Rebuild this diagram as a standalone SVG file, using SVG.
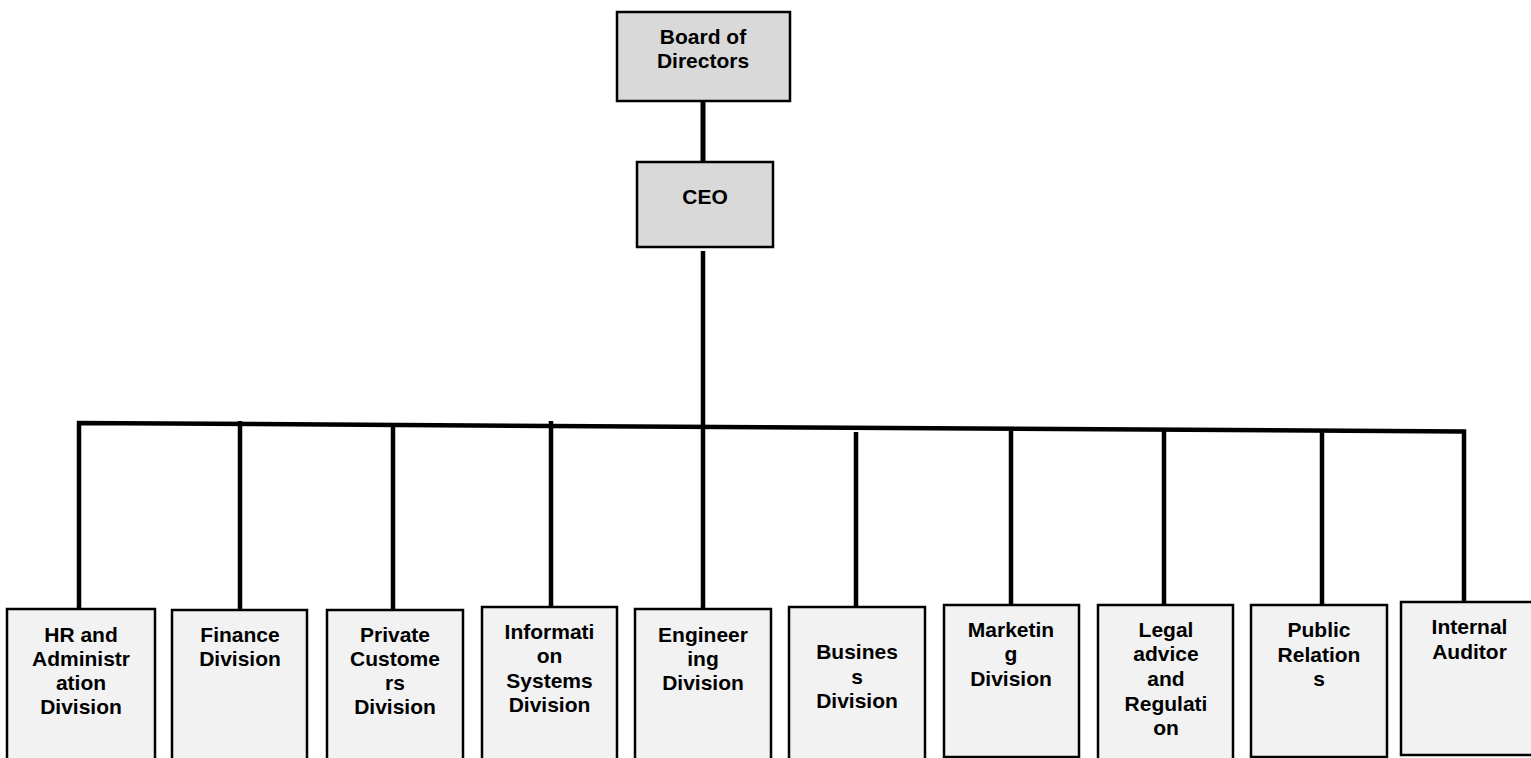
<svg xmlns="http://www.w3.org/2000/svg" width="1531" height="758" viewBox="0 0 1531 758">
<style>
.top{fill:#d9d9d9;stroke:#000;stroke-width:2.5}
.div{fill:#f2f2f2;stroke:#000;stroke-width:2.5}
text{font-family:"Liberation Sans",Arial,sans-serif;font-weight:bold;font-size:21px;fill:#000;text-anchor:middle}
.c{stroke:#000;stroke-width:4.5;fill:none}
</style>
<rect width="1531" height="758" fill="#fff"/>
<g id="connectors">
<line class="c" x1="703" y1="101" x2="703" y2="162" style="stroke-width:5"/>
<line class="c" x1="703" y1="251" x2="703" y2="609"/>
<polyline class="c" points="79,609 79,423 1464,431.5 1464,602"/>
<line class="c" x1="240" y1="421" x2="240" y2="610"/>
<line class="c" x1="393" y1="425" x2="393" y2="610"/>
<line class="c" x1="551" y1="421" x2="551" y2="607"/>
<line class="c" x1="856" y1="432" x2="856" y2="607"/>
<line class="c" x1="1011" y1="429" x2="1011" y2="605"/>
<line class="c" x1="1164" y1="429" x2="1164" y2="607"/>
<line class="c" x1="1322" y1="430" x2="1322" y2="605"/>
</g>
<g id="board"><rect class="top" x="617" y="12" width="173" height="89"/><text x="703" y="44">Board of</text><text x="703" y="68">Directors</text></g>
<g id="ceo"><rect class="top" x="637" y="162" width="136" height="85"/><text x="705" y="204">CEO</text></g>
<g id="hr"><rect class="div" x="7" y="609" width="148" height="152"/><text x="81" y="641.5">HR and</text><text x="81" y="666">Administr</text><text x="81" y="690">ation</text><text x="81" y="713.5">Division</text></g>
<g id="finance"><rect class="div" x="172" y="610" width="135" height="151"/><text x="240" y="641.5">Finance</text><text x="240" y="666">Division</text></g>
<g id="private"><rect class="div" x="327" y="610" width="136" height="151"/><text x="395" y="641.5">Private</text><text x="395" y="666">Custome</text><text x="395" y="690">rs</text><text x="395" y="713.5">Division</text></g>
<g id="info"><rect class="div" x="482" y="607" width="135" height="154"/><text x="549.5" y="639">Informati</text><text x="549.5" y="663">on</text><text x="549.5" y="687.5">Systems</text><text x="549.5" y="712">Division</text></g>
<g id="eng"><rect class="div" x="635" y="609" width="136" height="152"/><text x="703" y="641.5">Engineer</text><text x="703" y="666">ing</text><text x="703" y="690">Division</text></g>
<g id="business"><rect class="div" x="789" y="607" width="136" height="154"/><text x="857" y="659">Busines</text><text x="857" y="683.5">s</text><text x="857" y="708">Division</text></g>
<g id="marketing"><rect class="div" x="944" y="605" width="135" height="152"/><text x="1011" y="637">Marketin</text><text x="1011" y="661">g</text><text x="1011" y="686">Division</text></g>
<g id="legal"><rect class="div" x="1098" y="605" width="135" height="156"/><text x="1166" y="637">Legal</text><text x="1166" y="661">advice</text><text x="1166" y="686">and</text><text x="1166" y="711">Regulati</text><text x="1166" y="735">on</text></g>
<g id="pr"><rect class="div" x="1251" y="605" width="136" height="152"/><text x="1319" y="637">Public</text><text x="1319" y="661.5">Relation</text><text x="1319" y="686">s</text></g>
<g id="auditor"><rect class="div" x="1401" y="602" width="137" height="153"/><text x="1469.5" y="634">Internal</text><text x="1469.5" y="659">Auditor</text></g>
</svg>
